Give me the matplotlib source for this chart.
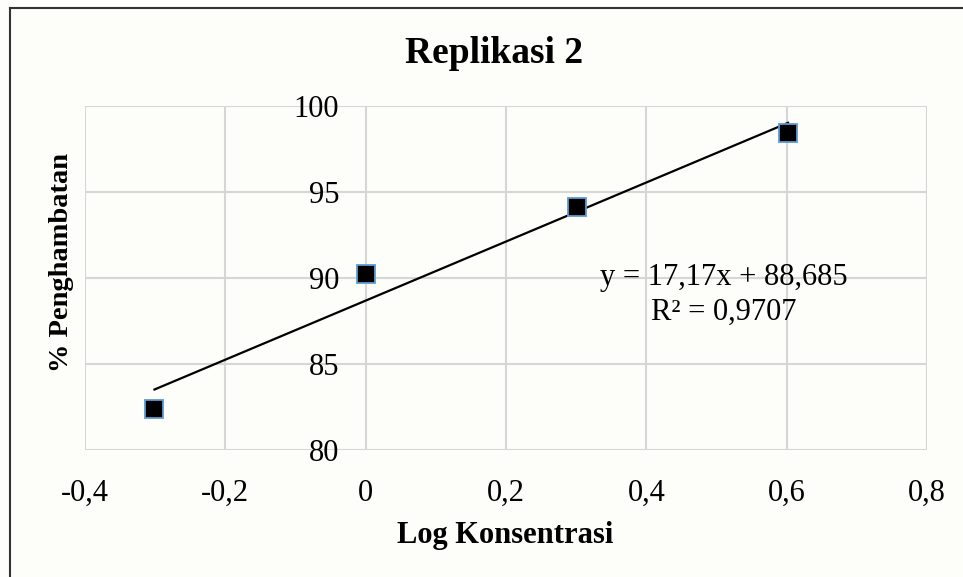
import matplotlib
matplotlib.use("Agg")
import matplotlib.pyplot as plt
from matplotlib.lines import Line2D

# Data
log_konsentrasi = [-0.301, 0.0, 0.301, 0.602]
penghambatan = [82.38, 90.25, 94.11, 98.45]
slope = 17.17
intercept = 88.685
r2_text = "R² = 0,9707"
eq_text = "y = 17,17x + 88,685"
x_ticks = [-0.4, -0.2, 0.0, 0.2, 0.4, 0.6, 0.8]
x_ticklabels = ["-0,4", "-0,2", "0", "0,2", "0,4", "0,6", "0,8"]
y_ticks = [80, 85, 90, 95, 100]
y_ticklabels = ["80", "85", "90", "95", "100"]
title = "Replikasi 2"
xlabel = "Log Konsentrasi"
ylabel = "% Penghambatan"

W, H = 963, 577
plt.rcParams['font.family'] = ['Liberation Serif', 'DejaVu Serif']
fig = plt.figure(figsize=(W / 100, H / 100), dpi=100, facecolor='#fdfdf9')
ax = fig.add_axes([85 / W, 1 - 450 / H, (927 - 85) / W, (450 - 106) / H])
ax.set_facecolor('none')

for s in ax.spines.values():
    s.set_visible(False)
ax.spines['left'].set_position(('data', 0))

ax.set_xlim(-0.4, 0.8)
ax.set_ylim(80, 100)
ax.set_xticks(x_ticks)
ax.set_xticklabels(x_ticklabels, fontsize=22)
ax.set_yticks(y_ticks)
ax.set_yticklabels(y_ticklabels, fontsize=22)
ax.grid(True, color='#d6d6d6', linewidth=1.5, zorder=0)
ax.tick_params(axis='both', length=0, colors='black')
ax.tick_params(axis='x', pad=21)
ax.tick_params(axis='y', pad=19)

# trendline
xs = [min(log_konsentrasi), max(log_konsentrasi)]
ys = [slope * v + intercept for v in xs]
ax.plot(xs, ys, color='black', linewidth=1.6, zorder=3)

ax.plot(log_konsentrasi, penghambatan, linestyle='none', marker='s',
        markersize=13, markerfacecolor='black', markeredgecolor='#5b9bd5',
        markeredgewidth=1.3, zorder=4)

ax.text(0.511, 89.59, eq_text, fontsize=22, ha='center', va='baseline', zorder=5)
ax.text(0.510, 87.56, r2_text, fontsize=22, ha='center', va='baseline', zorder=5)

fig.text(494 / W, 1 - 63 / H, title, fontsize=27, fontweight='bold',
         ha='center', va='baseline')
fig.text(505 / W, 1 - 543 / H, xlabel, fontsize=22, fontweight='bold',
         ha='center', va='baseline')
fig.text(62 / W, 1 - 263 / H, ylabel, fontsize=20.5, fontweight='bold',
         ha='center', va='center', rotation=90)

# outer frame (left and top edges)
fig.add_artist(Line2D([10 / W, 10 / W], [0, 1 - 8 / H], transform=fig.transFigure,
                      color='#333333', linewidth=1.5))
fig.add_artist(Line2D([10 / W, 1], [1 - 8 / H, 1 - 8 / H], transform=fig.transFigure,
                      color='#333333', linewidth=1.5))

fig.savefig("out.png", dpi=100, facecolor=fig.get_facecolor())
